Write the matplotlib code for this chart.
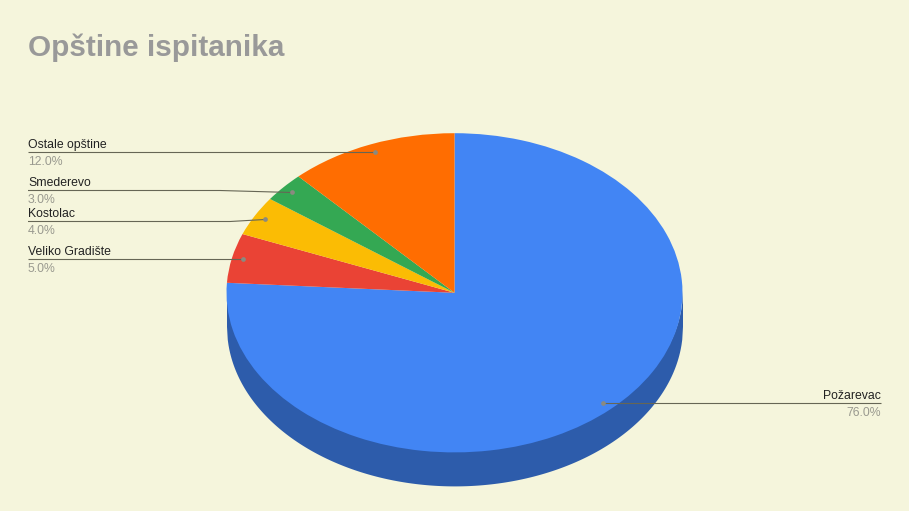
import matplotlib
matplotlib.use("Agg")
import matplotlib.pyplot as plt
import numpy as np

categories = ["Požarevac", "Veliko Gradište", "Kostolac", "Smederevo", "Ostale opštine"]
values = [76.0, 5.0, 4.0, 3.0, 12.0]
value_labels = ["76.0%", "5.0%", "4.0%", "3.0%", "12.0%"]
colors = ["#4285F4", "#EA4335", "#FBBC04", "#34A853", "#FF6D01"]

BG = "#F5F5DC"
W, H = 909, 511
CX, CY, RX, RY, DEPTH = 454.5, 292.8, 228.0, 159.6, 33.5

plt.rcParams["font.family"] = ["Liberation Sans", "DejaVu Sans"]
fig = plt.figure(figsize=(W / 100, H / 100), dpi=100, facecolor=BG)

# Pie axes: one data unit equals the pie radius on each axis (tilted ellipse)
ax = fig.add_axes([0, 0, 1, 1])
ax.pie(values, colors=colors, startangle=90, counterclock=False, radius=1,
       wedgeprops=dict(linewidth=0, zorder=3))
ax.set_aspect("auto")
ax.set_xlim(-CX / RX, (W - CX) / RX)
ax.set_ylim((CY - H) / RY, CY / RY)
ax.axis("off")

# Side wall of the 3D pie
d = DEPTH / RY
xs = np.linspace(-1, 1, 600)
lower = -np.sqrt(1 - xs ** 2)
ax.fill_between(xs, lower - d, lower + 0.02, color="#2D5CAB", linewidth=0, zorder=1)

# Overlay in pixel coordinates for title, leader lines, labels
ov = fig.add_axes([0, 0, 1, 1], facecolor="none")
ov.set_xlim(0, W)
ov.set_ylim(H, 0)
ov.axis("off")

ov.text(28, 56.5, "Opštine ispitanika", fontsize=21.35, fontweight="bold",
        color="#999999", ha="left", va="baseline")

leaders = {
    "Ostale opštine": ([28, 375], [152.5, 152.5], "left", 28, 148, 165),
    "Smederevo": ([28, 220, 292], [190.5, 190.5, 192.5], "left", 28, 186, 203),
    "Kostolac": ([28, 230, 265], [221.5, 221.5, 219.5], "left", 28, 217, 234),
    "Veliko Gradište": ([28, 243], [259.5, 259.5], "left", 28, 255, 272),
    "Požarevac": ([881, 602.5], [403.5, 403.5], "right", 881, 399, 416),
}
for name, val in zip(categories, value_labels):
    xl, yl, ha, tx, y1, y2 = leaders[name]
    ov.plot(xl, yl, color="#666655", lw=0.8, solid_capstyle="butt", zorder=5)
    ov.plot(xl[-1], yl[-1], "o", ms=3.4, color="#8A8A80", mew=0, zorder=6)
    ov.text(tx, y1, name, fontsize=8.8, color="#222222", ha=ha, va="baseline")
    ov.text(tx, y2, val, fontsize=8.8, color="#99998F", ha=ha, va="baseline")

fig.savefig("out.png", dpi=100, facecolor=BG)
